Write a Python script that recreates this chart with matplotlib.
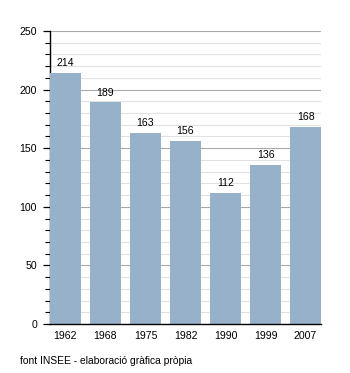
import matplotlib
matplotlib.use("Agg")
import matplotlib.pyplot as plt
from matplotlib import ticker

years = ["1962", "1968", "1975", "1982", "1990", "1999", "2007"]
population = [214, 189, 163, 156, 112, 136, 168]

plt.rcParams['font.family'] = ['Liberation Sans', 'DejaVu Sans']
plt.rcParams['font.size'] = 7.4

fig = plt.figure(figsize=(3.5, 3.73), dpi=100)
ax = fig.add_axes([0.143, 0.1314, 0.774, 0.7855])

w = 0.766
x = range(len(years))
bars = ax.bar(x, population, width=w, color='#97b1cb', zorder=3)
for b, v in zip(bars, population):
    ax.annotate(str(v), (b.get_x() + b.get_width() / 2, v), xytext=(0, 3.5),
                textcoords='offset points', ha='center', va='bottom',
                fontsize=7.6, zorder=4)

ax.set_xlim(-w / 2, len(years) - 1 + w / 2)
ax.set_ylim(0, 250)
ax.set_xticks(list(x))
ax.set_xticklabels(years)
ax.yaxis.set_major_locator(ticker.MultipleLocator(50))
ax.yaxis.set_minor_locator(ticker.MultipleLocator(10))

ax.grid(True, axis='y', which='major', color='#aaaaaa', linewidth=0.8, zorder=1)
ax.grid(True, axis='y', which='minor', color='#e2e2e2', linewidth=0.8, zorder=0)

for s in ['top', 'right']:
    ax.spines[s].set_visible(False)
ax.spines['left'].set_linewidth(1)
ax.spines['bottom'].set_linewidth(1)
ax.spines['bottom'].set_zorder(5)

ax.tick_params(axis='x', length=0, pad=5, labelsize=7.6)
ax.tick_params(axis='y', which='major', length=5, width=0.9, labelsize=7.6, pad=4.4)
ax.tick_params(axis='y', which='minor', length=3.6, width=0.8)

fig.text(20 / 350, 1 - 361 / 373, "font INSEE - elaboració gràfica pròpia",
         fontsize=7.4, va='center', ha='left')

fig.savefig("out.png", dpi=100)
